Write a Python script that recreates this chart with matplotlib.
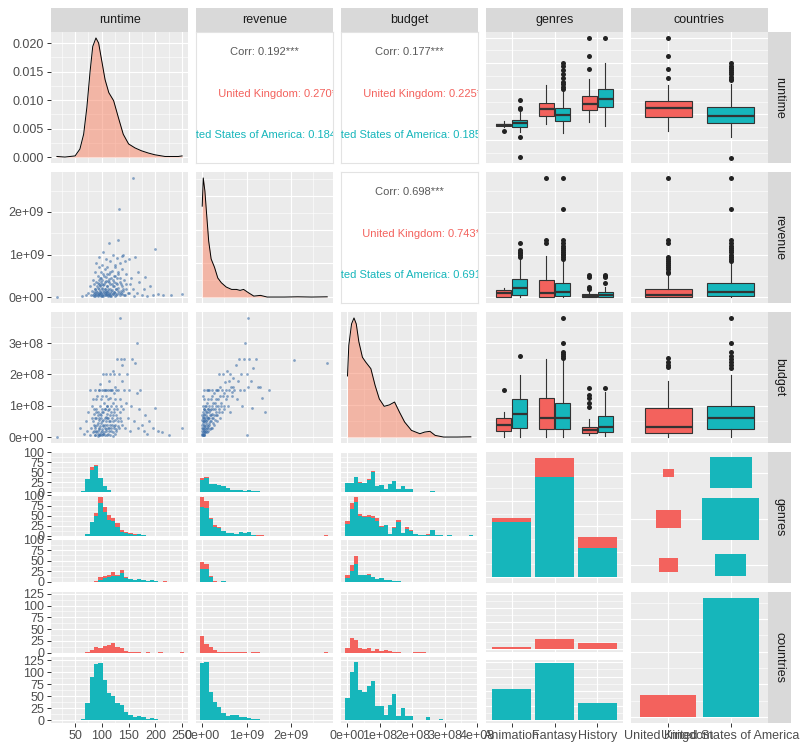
import numpy as np
from matplotlib import pyplot as plt
from matplotlib.patches import Rectangle

plt.rcParams['font.family'] = ['Liberation Sans', 'DejaVu Sans']

RED = '#F3625D'
TEAL = '#16B6BB'
DENS_FILL = '#F98161'
PANEL = '#EBEBEB'
STRIP = '#D9D9D9'
DOT = '#3E6FA8'

# ---------------- data ----------------
variables = ['runtime', 'revenue', 'budget', 'genres', 'countries']
genres = ['Animation', 'Fantasy', 'History']
countries = ['United Kingdom', 'United States of America']

# diagonal densities (revenue in 1e9, budget in 1e8; those two scaled to peak 1)
rt_dens_x = [16, 31, 50, 59, 66, 72, 78, 83, 89, 94, 100, 106, 113, 122, 131, 140, 150, 162, 174, 187, 199, 218, 243, 250]
rt_dens_y = [0.0001, 0.0, 0.0002, 0.0014, 0.0040, 0.0087, 0.0150, 0.0194, 0.0209, 0.0200, 0.0168, 0.0136,
             0.0113, 0.0099, 0.0069, 0.0040, 0.0023, 0.0016, 0.0011, 0.0007, 0.0004, 0.0001, 0.0001, 0.0002]
rev_dens_x = [0.0, 0.023, 0.06, 0.10, 0.145, 0.20, 0.276, 0.35, 0.43, 0.54, 0.66, 0.77, 0.85, 0.93,
              1.04, 1.16, 1.31, 1.46, 1.85, 2.15, 2.46, 2.81]
rev_dens_y = [0.763, 1.0, 0.89, 0.69, 0.47, 0.32, 0.25, 0.16, 0.12, 0.084, 0.064, 0.064, 0.056, 0.064,
              0.036, 0.008, 0.014, 0.0, 0.0, 0.002, 0.0, 0.002]
bud_dens_x = [0.0, 0.04, 0.125, 0.2, 0.27, 0.35, 0.46, 0.56, 0.72, 0.85, 0.98, 1.13, 1.29, 1.45, 1.6,
              1.76, 1.97, 2.23, 2.38, 2.54, 2.7, 2.96, 3.38, 3.8]
bud_dens_y = [0.513, 0.77, 0.95, 1.0, 0.95, 0.80, 0.67, 0.63, 0.574, 0.434, 0.32, 0.258, 0.27, 0.294,
              0.21, 0.126, 0.056, 0.028, 0.042, 0.048, 0.014, 0.0, 0.0, 0.002]

# scatter points: (runtime, revenue 1e9), (runtime, budget 1e8), (revenue 1e9, budget 1e8)
rt_rev = [(17, 0.0), (62, 0.02), (70, 0.05), (75, 0.1), (78, 0.25), (80, 0.05), (82, 0.15), (84, 0.4),
          (85, 0.02), (86, 0.3), (87, 0.1), (88, 0.6), (88, 0.2), (89, 0.05), (90, 0.35), (90, 0.8),
          (91, 0.12), (92, 0.5), (92, 0.03), (93, 0.22), (94, 0.7), (94, 0.08), (95, 0.3), (95, 0.95),
          (96, 0.15), (96, 0.45), (97, 0.05), (97, 0.25), (98, 0.6), (98, 0.1), (99, 0.35), (100, 0.02),
          (100, 0.18), (100, 0.75), (101, 0.4), (102, 0.08), (102, 1.05), (103, 0.28), (103, 0.55),
          (104, 0.12), (105, 0.2), (105, 0.65), (106, 0.04), (106, 0.35), (107, 0.9), (107, 0.15),
          (108, 0.48), (108, 0.06), (109, 0.25), (110, 0.12), (110, 0.7), (111, 0.38), (112, 0.05),
          (112, 0.2), (113, 0.55), (114, 1.28), (114, 0.1), (115, 0.3), (116, 0.85), (116, 0.02),
          (117, 0.45), (118, 0.15), (119, 0.62), (120, 0.25), (120, 0.08), (121, 1.0), (122, 0.35),
          (123, 0.12), (124, 0.75), (125, 0.5), (126, 0.2), (127, 0.05), (128, 0.92), (129, 0.3),
          (130, 1.33), (130, 0.6), (131, 0.15), (132, 2.07), (133, 0.45), (134, 0.8), (135, 0.1),
          (136, 0.3), (137, 0.96), (138, 0.65), (139, 0.2), (140, 1.0), (141, 0.05), (142, 0.4),
          (143, 0.85), (145, 0.2), (146, 0.55), (148, 0.1), (150, 0.9), (152, 0.3), (155, 0.45),
          (158, 0.2), (159, 2.81), (160, 0.02), (162, 0.95), (165, 0.1), (168, 0.6), (170, 0.35),
          (175, 0.05), (178, 0.2), (180, 0.48), (185, 0.02), (190, 0.25), (195, 0.05), (199, 1.12),
          (205, 0.08), (215, 0.04), (230, 0.05), (249, 0.06),
          (84, 0.05), (85, 0.12), (86, 0.08), (87, 0.2), (88, 0.03), (89, 0.15), (90, 0.07), (91, 0.25),
          (92, 0.1), (93, 0.04), (94, 0.18), (95, 0.06), (96, 0.28), (97, 0.12), (98, 0.02), (99, 0.09),
          (100, 0.22), (101, 0.05), (102, 0.15), (103, 0.03), (104, 0.3), (105, 0.1), (106, 0.18),
          (107, 0.04), (108, 0.12), (109, 0.07), (110, 0.25), (111, 0.02), (112, 0.14), (113, 0.08),
          (114, 0.35), (115, 0.05), (116, 0.2), (117, 0.1), (118, 0.03), (119, 0.16), (120, 0.4),
          (121, 0.06), (122, 0.13), (123, 0.25), (124, 0.02), (125, 0.1), (126, 0.33), (127, 0.18),
          (128, 0.07), (130, 0.22), (132, 0.1), (134, 0.04), (136, 0.15), (138, 0.08), (92, 0.32),
          (95, 0.4), (98, 0.45), (101, 0.3), (104, 0.5), (107, 0.38), (110, 0.55), (113, 0.42),
          (116, 0.6), (119, 0.3), (122, 0.5), (125, 0.7), (128, 0.45), (131, 0.55), (134, 0.35),
          (137, 0.25), (140, 0.15), (143, 0.05), (146, 0.3), (150, 0.1)]
rt_bud = [(17, 0.0), (60, 0.3), (66, 0.1), (70, 0.5), (72, 0.2), (75, 0.8), (77, 0.05), (78, 1.5),
          (80, 0.3), (81, 1.0), (82, 0.6), (83, 0.15), (84, 1.2), (85, 0.4), (86, 0.75), (87, 0.05),
          (88, 1.5), (88, 0.3), (89, 0.9), (90, 0.2), (90, 0.6), (91, 1.3), (92, 0.1), (92, 0.45),
          (93, 0.8), (94, 1.5), (94, 0.25), (95, 0.6), (96, 1.0), (96, 0.05), (97, 0.35), (97, 1.7),
          (98, 0.7), (98, 0.15), (99, 1.2), (100, 0.5), (100, 0.9), (101, 0.25), (101, 1.5), (102, 0.4),
          (102, 2.0), (103, 0.8), (103, 0.1), (104, 1.1), (105, 0.6), (105, 0.3), (106, 1.5), (106, 0.9),
          (107, 0.2), (107, 1.3), (108, 0.5), (108, 2.0), (109, 0.75), (110, 0.4), (110, 1.0), (111, 1.5),
          (111, 0.1), (112, 0.6), (113, 1.8), (113, 0.3), (114, 0.9), (115, 1.25), (115, 0.5), (116, 2.0),
          (117, 0.2), (117, 0.8), (118, 1.5), (119, 0.4), (120, 1.1), (120, 0.7), (121, 2.1), (122, 0.3),
          (122, 1.4), (123, 0.9), (124, 0.55), (125, 1.6), (126, 0.2), (127, 1.0), (128, 2.5), (129, 0.6),
          (130, 1.5), (131, 0.35), (132, 2.0), (133, 3.81), (133, 0.8), (134, 1.2), (135, 2.5), (136, 0.5),
          (137, 1.8), (138, 2.3), (140, 0.9), (141, 1.5), (142, 2.5), (144, 0.3), (145, 1.1), (147, 2.0),
          (148, 0.6), (150, 1.5), (152, 0.2), (155, 1.0), (157, 2.5), (160, 0.5), (162, 2.37), (165, 1.4),
          (166, 3.0), (168, 0.3), (170, 0.9), (172, 1.5), (175, 0.4), (178, 0.2), (180, 0.7), (185, 0.1),
          (188, 0.5), (195, 0.3), (199, 0.94), (205, 0.2), (213, 0.17), (225, 0.05), (249, 0.3),
          (84, 0.5), (85, 0.2), (86, 0.9), (87, 0.35), (88, 0.6), (89, 0.15), (90, 0.8), (91, 0.4),
          (92, 0.7), (93, 0.2), (94, 0.55), (95, 0.3), (96, 0.75), (97, 0.1), (98, 0.45), (99, 0.6),
          (100, 0.2), (101, 0.8), (102, 0.35), (103, 0.55), (104, 0.15), (105, 0.9), (106, 0.4),
          (107, 0.65), (108, 0.25), (109, 1.0), (110, 0.6), (111, 0.3), (112, 0.85), (113, 0.5),
          (114, 0.2), (115, 0.7), (116, 0.4), (117, 1.0), (118, 0.3), (119, 0.6), (120, 0.15),
          (121, 0.5), (122, 0.8), (123, 0.35), (124, 1.2), (125, 0.4), (126, 0.7), (127, 0.25),
          (128, 0.9), (130, 0.5), (132, 0.3), (134, 0.6), (136, 1.0), (138, 0.4), (90, 1.2), (95, 1.5),
          (100, 1.3), (104, 1.5), (108, 1.5), (112, 1.2), (115, 1.5), (119, 1.5), (123, 2.0), (127, 1.5),
          (95, 0.05), (100, 0.05), (105, 0.08), (110, 0.05), (115, 0.05), (120, 0.04), (125, 0.1),
          (88, 0.05), (92, 0.03), (102, 0.1)]
rev_bud = [(0.0, 0.05), (0.0, 0.2), (0.0, 0.4), (0.01, 0.6), (0.01, 0.1), (0.01, 0.8), (0.02, 0.3),
           (0.02, 1.0), (0.02, 0.15), (0.03, 0.5), (0.03, 0.7), (0.03, 0.05), (0.04, 0.25), (0.04, 1.2),
           (0.05, 0.4), (0.05, 0.9), (0.06, 0.6), (0.06, 0.15), (0.07, 0.35), (0.07, 1.0), (0.08, 0.5),
           (0.08, 0.8), (0.09, 0.2), (0.1, 0.65), (0.1, 1.1), (0.11, 0.4), (0.12, 0.9), (0.12, 0.3),
           (0.13, 1.5), (0.14, 0.6), (0.15, 0.8), (0.15, 0.45), (0.16, 1.0), (0.17, 0.25), (0.18, 0.7),
           (0.19, 1.2), (0.2, 0.5), (0.2, 0.9), (0.21, 1.5), (0.22, 0.3), (0.23, 0.75), (0.24, 1.1),
           (0.25, 0.6), (0.26, 1.4), (0.27, 0.4), (0.28, 0.9), (0.3, 1.5), (0.3, 0.7), (0.32, 1.2),
           (0.33, 0.5), (0.35, 1.0), (0.36, 1.5), (0.37, 0.8), (0.38, 2.0), (0.4, 1.3), (0.41, 0.6),
           (0.43, 1.0), (0.45, 1.5), (0.46, 2.0), (0.48, 0.9), (0.5, 1.4), (0.52, 1.75), (0.54, 1.2),
           (0.55, 2.1), (0.57, 1.0), (0.6, 1.5), (0.62, 2.0), (0.63, 0.8), (0.65, 1.6), (0.68, 1.3),
           (0.7, 1.9), (0.72, 1.5), (0.75, 2.3), (0.78, 1.2), (0.8, 1.8), (0.82, 2.5), (0.85, 1.5),
           (0.88, 2.0), (0.9, 1.0), (0.93, 2.5), (0.95, 1.5), (0.97, 3.0), (1.0, 0.07), (1.0, 2.0),
           (1.02, 1.6), (1.04, 3.81), (1.06, 2.5), (1.1, 1.8), (1.12, 0.94), (1.15, 2.2), (1.2, 2.5),
           (1.25, 1.6), (1.3, 1.6), (1.34, 1.25), (1.4, 0.8), (1.5, 1.5), (2.07, 2.45), (2.81, 2.37),
           (0.0, 0.1), (0.0, 0.3), (0.0, 0.55), (0.0, 0.7), (0.01, 0.25), (0.01, 0.45), (0.01, 0.05),
           (0.02, 0.5), (0.02, 0.65), (0.02, 0.08), (0.03, 0.2), (0.03, 0.35), (0.03, 0.9), (0.04, 0.1),
           (0.04, 0.5), (0.04, 0.75), (0.05, 0.2), (0.05, 0.6), (0.05, 0.05), (0.06, 0.3), (0.06, 0.85),
           (0.07, 0.15), (0.07, 0.55), (0.08, 0.25), (0.08, 1.0), (0.09, 0.45), (0.09, 0.7), (0.1, 0.3),
           (0.1, 0.15), (0.11, 0.8), (0.11, 0.55), (0.12, 0.6), (0.13, 0.35), (0.13, 0.9), (0.14, 0.2),
           (0.14, 1.2), (0.15, 0.6), (0.16, 0.4), (0.17, 0.85), (0.18, 0.5), (0.19, 0.3), (0.2, 0.7),
           (0.21, 1.0), (0.22, 0.6), (0.23, 1.3), (0.24, 0.45), (0.25, 0.9), (0.26, 0.7), (0.28, 1.1),
           (0.29, 0.55), (0.3, 1.0), (0.31, 0.8), (0.33, 1.5), (0.34, 0.7), (0.36, 1.2), (0.38, 0.9),
           (0.4, 1.6), (0.42, 1.1), (0.44, 0.8), (0.47, 1.3), (0.5, 1.0), (0.53, 1.5), (0.56, 1.3),
           (0.6, 1.8), (0.66, 1.45), (0.7, 1.6), (0.02, 1.3), (0.05, 1.5), (0.1, 1.5), (0.15, 1.5)]

# correlation texts
corr_all = {(0, 1): '0.192***', (0, 2): '0.177***', (1, 2): '0.698***'}
corr_uk = {(0, 1): '0.270*', (0, 2): '0.225*', (1, 2): '0.743***'}
corr_us = {(0, 1): '0.184***', (0, 2): '0.185***', (1, 2): '0.691***'}

# boxplots: [whislo, q1, median, q3, whishi] and outliers, per genre (UK / US) and per country
rt_box_uk = [[75, 77, 79, 82, 87], [81, 96, 110, 122, 157], [86, 109, 120, 136, 170]]
rt_out_uk = [[67], [], [188, 215, 249]]
rt_box_us = [[66, 75, 83, 89, 105], [64, 88, 99, 112, 146], [77, 115, 130, 149, 200]]
rt_out_us = [[110, 113, 128, 55, 17], [149, 154, 159, 164, 172, 179, 187, 195, 201], [249]]
rt_box_cty = [[68, 94, 112, 126, 157], [55, 83, 96, 114, 160]]
rt_out_cty = [[172, 188, 215, 249], [167, 170, 174, 178, 182, 186, 190, 195, 201, 15]]

rev_box_uk = [[0.0, 0.01, 0.09, 0.17, 0.22], [0.0, 0.01, 0.10, 0.40, 0.96], [0.0, 0.01, 0.03, 0.07, 0.12]]
rev_out_uk = [[], [1.28, 1.34, 2.81], [0.2, 0.24, 0.48, 0.53]]
rev_box_us = [[0.0, 0.05, 0.21, 0.42, 0.87], [0.0, 0.025, 0.11, 0.32, 0.87], [0.0, 0.01, 0.04, 0.11, 0.24]]
rev_out_us = [[0.95, 0.98, 1.03, 1.06, 1.11, 1.28],
              [0.9, 0.94, 0.98, 1.02, 1.06, 1.1, 1.15, 1.2, 1.28, 1.34, 2.07, 2.81],
              [0.32, 0.48, 0.5, 0.53]]
rev_box_cty = [[0.0, 0.0, 0.055, 0.2, 0.5], [0.0, 0.025, 0.11, 0.32, 0.8]]
rev_out_cty = [[0.56, 0.6, 0.65, 0.7, 0.75, 0.8, 0.85, 0.9, 0.95, 1.28, 1.34, 2.81],
               [0.85, 0.9, 0.95, 1.0, 1.05, 1.1, 1.15, 1.2, 1.28, 1.34, 2.07, 2.81]]

bud_box_uk = [[0.01, 0.19, 0.38, 0.62, 0.79], [0.01, 0.25, 0.6, 1.24, 2.48], [0.05, 0.12, 0.22, 0.33, 0.58]]
bud_out_uk = [[1.5], [], [0.97, 1.08, 1.24, 1.34, 1.55]]
bud_box_us = [[0.01, 0.3, 0.74, 1.2, 1.98], [0.01, 0.25, 0.6, 1.1, 2.47], [0.04, 0.17, 0.33, 0.68, 1.45]]
bud_out_us = [[2.6], [2.51, 2.58, 2.65, 2.72, 3.01, 3.81], [1.55]]
bud_box_cty = [[0.0, 0.14, 0.33, 0.94, 1.79], [0.0, 0.25, 0.6, 1.0, 1.98]]
bud_out_cty = [[2.22, 2.3, 2.4, 2.51], [2.2, 2.3, 2.4, 2.5, 2.6, 2.72, 3.01, 3.81]]

# film counts per genre
genre_n_us = [218, 395, 115]
genre_n_uk = [15, 75, 42]

# histogram counts, 30 bins each
rt_anim_us = [1, 0, 0, 0, 0, 1, 2, 32, 55, 66, 35, 15, 5, 0, 1, 0, 0, 0, 0, 0, 0, 0, 0, 0, 0, 0, 0, 0, 0, 0]
rt_anim_uk = [0, 0, 0, 0, 0, 0, 0, 1, 7, 3, 0, 0, 0, 0, 0, 0, 0, 0, 0, 0, 0, 0, 0, 0, 0, 0, 0, 0, 0, 0]
rt_fant_us = [0, 0, 0, 0, 0, 0, 1, 5, 35, 50, 82, 60, 40, 36, 21, 11, 7, 4, 3, 4, 2, 1, 1, 0, 0, 0, 0, 0, 0, 0]
rt_fant_uk = [0, 0, 0, 0, 0, 0, 0, 0, 0, 6, 14, 12, 11, 8, 11, 3, 3, 4, 2, 0, 0, 0, 0, 0, 0, 0, 0, 0, 0, 0]
rt_hist_us = [0, 0, 0, 0, 0, 0, 0, 0, 1, 0, 5, 10, 12, 15, 15, 20, 10, 7, 5, 6, 4, 2, 4, 2, 0, 0, 0, 0, 0, 1]
rt_hist_uk = [0, 0, 0, 0, 0, 0, 0, 0, 0, 3, 7, 3, 5, 9, 1, 7, 2, 0, 0, 1, 0, 0, 0, 0, 0, 2, 0, 0, 0, 0]
rt_us = [1, 0, 0, 0, 0, 1, 3, 37, 90, 117, 120, 84, 57, 51, 37, 31, 17, 11, 8, 10, 6, 3, 5, 2, 0, 0, 0, 0, 0, 1]
rt_uk = [0, 0, 0, 0, 0, 0, 0, 2, 5, 11, 9, 15, 16, 20, 11, 10, 4, 2, 2, 1, 0, 1, 0, 0, 1, 0, 0, 0, 0, 1]

rev_anim_us = [30, 35, 20, 20, 17, 14, 11, 6, 6, 5, 3, 6, 3, 3, 0, 0, 0, 0, 0, 0, 0, 0, 0, 0, 0, 0, 0, 0, 0, 0]
rev_anim_uk = [5, 4, 0, 0, 0, 0, 0, 0, 0, 0, 0, 0, 0, 0, 0, 0, 0, 0, 0, 0, 0, 0, 0, 0, 0, 0, 0, 0, 0, 0]
rev_fant_us = [71, 70, 41, 23, 20, 12, 8, 8, 6, 11, 8, 10, 3, 0, 0, 0, 0, 0, 0, 0, 0, 0, 1, 0, 0, 0, 0, 0, 0, 0]
rev_fant_uk = [26, 15, 3, 3, 1, 0, 0, 0, 0, 0, 0, 0, 0, 2, 2, 0, 0, 0, 0, 0, 0, 0, 0, 0, 0, 0, 0, 0, 0, 2]
rev_hist_us = [30, 30, 11, 0, 0, 3, 0, 0, 0, 0, 0, 0, 0, 0, 0, 0, 0, 0, 0, 0, 0, 0, 0, 0, 0, 0, 0, 0, 0, 0]
rev_hist_uk = [17, 12, 4, 2, 0, 0, 0, 0, 0, 0, 0, 0, 0, 0, 0, 0, 0, 0, 0, 0, 0, 0, 0, 0, 0, 0, 0, 0, 0, 0]
rev_us = [120, 122, 60, 39, 28, 15, 10, 12, 11, 8, 7, 4, 2, 2, 1, 0, 0, 0, 0, 0, 0, 0, 1, 0, 0, 0, 0, 0, 0, 1]
rev_uk = [35, 19, 12, 5, 2, 2, 1, 2, 2, 1, 2, 0, 1, 1, 0, 0, 0, 0, 0, 0, 0, 0, 0, 0, 0, 0, 0, 0, 0, 1]

bud_anim_us = [22, 22, 37, 23, 22, 31, 51, 14, 17, 7, 19, 28, 7, 14, 7, 7, 0, 0, 0, 0, 2, 0, 0, 0, 0, 0, 0, 0, 0, 0]
bud_anim_uk = [2, 0, 0, 2, 0, 2, 1, 0, 0, 0, 0, 1, 0, 0, 0, 0, 0, 0, 0, 0, 0, 0, 0, 0, 0, 0, 0, 0, 0, 0]
bud_fant_us = [30, 66, 83, 50, 47, 48, 45, 38, 22, 27, 5, 20, 35, 8, 17, 12, 6, 3, 3, 3, 14, 2, 2, 0, 2, 0, 0, 0, 0, 2]
bud_fant_uk = [7, 16, 13, 5, 3, 4, 5, 7, 3, 1, 0, 2, 5, 0, 5, 2, 0, 0, 0, 2, 0, 0, 0, 0, 0, 0, 0, 0, 0, 0]
bud_hist_us = [10, 26, 43, 17, 17, 17, 12, 7, 10, 5, 5, 3, 3, 0, 0, 0, 0, 0, 0, 0, 0, 0, 0, 0, 0, 0, 0, 0, 0, 0]
bud_hist_uk = [7, 14, 17, 0, 0, 1, 0, 0, 0, 0, 0, 0, 0, 0, 0, 0, 0, 0, 0, 0, 0, 0, 0, 0, 0, 0, 0, 0, 0, 0]
bud_us = [47, 100, 122, 63, 60, 72, 82, 29, 30, 12, 33, 54, 9, 26, 9, 9, 1, 1, 1, 8, 0, 0, 2, 0, 0, 0, 0, 0, 1, 0]
bud_uk = [10, 31, 27, 10, 8, 10, 4, 7, 3, 6, 4, 2, 2, 0, 0, 0, 1, 1, 1, 0, 0, 0, 0, 0, 0, 0, 0, 0, 0, 0]

# variable ranges (revenue in 1e9, budget in 1e8)
rt_range = (17, 250)
rev_range = (0, 2.79)
bud_range = (0, 3.8)

# ---------------- layout (pixels) ----------------
W, H = 800, 750
COLS = [(51, 188), (196, 333), (341, 478), (486, 623), (631, 768)]
ROWS = [(32, 163), (172, 303), (312, 443), (452, 583), (592, 723)]
GENRE_SUB = [(452, 493), (495, 537), (539, 583)]
CTY_SUB = [(592, 654), (656.5, 723)]
CTY_SUB_BAR = [(592, 652), (660, 723)]

fig = plt.figure(figsize=(W / 100, H / 100), dpi=100)


def add_px(x0, y0, x1, y1):
    return fig.add_axes([x0 / W, 1 - y1 / H, (x1 - x0) / W, (y1 - y0) / H])


def panel(x0, y0, x1, y1, bg=PANEL):
    ax = add_px(x0, y0, x1, y1)
    ax.set_facecolor(bg)
    for s in ax.spines.values():
        s.set_visible(False)
    ax.tick_params(which='both', length=0, labelleft=False, labelbottom=False)
    ax.set_axisbelow(True)
    return ax


def grid(ax, xmaj, xmin, ymaj, ymin):
    ax.set_xticks(xmaj)
    ax.set_xticks(xmin, minor=True)
    ax.set_yticks(ymaj)
    ax.set_yticks(ymin, minor=True)
    ax.grid(which='major', color='white', lw=0.85)
    ax.grid(which='minor', color='white', lw=0.4)


def ylabels(ax, labels):
    ax.set_yticklabels(labels)
    ax.tick_params(axis='y', which='major', left=True, length=3, width=0.7, color='#333333',
                   labelleft=True, labelsize=9, labelcolor='#4D4D4D', pad=2)


def xlabels(ax, labels):
    ax.set_xticklabels(labels)
    ax.tick_params(axis='x', which='major', bottom=True, length=3, width=0.7, color='#333333',
                   labelbottom=True, labelsize=9, labelcolor='#4D4D4D', pad=2)


# xlim used when the variable is on x, ylim when it is on y
scales = [
    dict(xlim=(5, 261), ylim=(5, 261), maj=[50, 100, 150, 200, 250], mnr=[25, 75, 125, 175, 225],
         lab=['50', '100', '150', '200', '250']),
    dict(xlim=(-0.14, 2.94), ylim=(-0.14, 2.94), maj=[0, 1, 2], mnr=[0.5, 1.5, 2.5],
         lab=['0e+00', '1e+09', '2e+09']),
    dict(xlim=(-0.2, 4.02), ylim=(-0.19, 3.99), maj=[0, 1, 2, 3, 4], mnr=[0.5, 1.5, 2.5, 3.5],
         lab=['0e+00', '1e+08', '2e+08', '3e+08', '4e+08']),
]
ranges = [rt_range, rev_range, bud_range]

# ---------------- diagonal densities ----------------
dens = [(rt_dens_x, rt_dens_y), (rev_dens_x, rev_dens_y), (bud_dens_x, bud_dens_y)]
dens_grid = [0.005, 0.283, 0.269]
for i in range(3):
    sc = scales[i]
    ax = panel(COLS[i][0], ROWS[i][0], COLS[i][1], ROWS[i][1])
    x, y = dens[i]
    top = max(y)
    step = dens_grid[i]
    ymaj = np.arange(0, top * 1.06, step)
    grid(ax, sc['maj'], sc['mnr'], ymaj, ymaj + step / 2)
    ax.fill_between(x, y, 0, color=DENS_FILL, alpha=0.5, lw=0)
    ax.plot(x, y, color='black', lw=0.7)
    ax.set_xlim(sc['xlim'])
    ax.set_ylim(-0.05 * top, 1.05 * top)
    if i == 0:
        ylabels(ax, ['0.000', '0.005', '0.010', '0.015', '0.020'])

# ---------------- lower scatters ----------------
scat = {(1, 0): rt_rev, (2, 0): rt_bud, (2, 1): rev_bud}
for (r, c), pts in scat.items():
    ax = panel(COLS[c][0], ROWS[r][0], COLS[c][1], ROWS[r][1])
    grid(ax, scales[c]['maj'], scales[c]['mnr'], scales[r]['maj'], scales[r]['mnr'])
    px, py = np.array(pts).T
    ax.scatter(px, py, s=4, color=DOT, alpha=0.6, lw=0)
    ax.set_xlim(scales[c]['xlim'])
    ax.set_ylim(scales[r]['ylim'])
    if c == 0:
        ylabels(ax, scales[r]['lab'])

# ---------------- upper correlations ----------------
lab_w = max(len(c) for c in countries)
for (r, c), val in corr_all.items():
    ax = panel(COLS[c][0], ROWS[r][0], COLS[c][1], ROWS[r][1], bg='white')
    for s in ax.spines.values():
        s.set_visible(True)
        s.set_color('#E3E3E3')
        s.set_linewidth(0.8)
    ax.set_xticks([])
    ax.set_yticks([])
    num_w = max(len(corr_uk[(r, c)]), len(corr_us[(r, c)]))
    ax.text(0.5, 0.85, 'Corr: ' + val, transform=ax.transAxes, ha='center', va='center',
            fontsize=8, color='#595959')
    ax.text(0.5, 0.53, countries[0].rjust(lab_w) + ': ' + corr_uk[(r, c)].ljust(num_w),
            transform=ax.transAxes, ha='center', va='center', fontsize=8, color=RED, clip_on=True)
    ax.text(0.5, 0.21, countries[1].rjust(lab_w) + ': ' + corr_us[(r, c)].ljust(num_w),
            transform=ax.transAxes, ha='center', va='center', fontsize=8, color=TEAL, clip_on=True)

# ---------------- boxplots ----------------
box_genre = [(rt_box_uk, rt_out_uk, rt_box_us, rt_out_us),
             (rev_box_uk, rev_out_uk, rev_box_us, rev_out_us),
             (bud_box_uk, bud_out_uk, bud_box_us, bud_out_us)]
box_cty = [(rt_box_cty, rt_out_cty), (rev_box_cty, rev_out_cty), (bud_box_cty, bud_out_cty)]


def stats(five, out):
    return dict(whislo=five[0], q1=five[1], med=five[2], q3=five[3], whishi=five[4], fliers=out)


def draw_box(ax, st, pos, width, color):
    ax.bxp([st], positions=[pos], widths=width, patch_artist=True, showcaps=False, manage_ticks=False,
           boxprops=dict(facecolor=color, edgecolor='#333333', lw=0.8),
           medianprops=dict(color='#333333', lw=1.6),
           whiskerprops=dict(color='#333333', lw=0.8),
           flierprops=dict(marker='o', markerfacecolor='#222222', markeredgecolor='none', markersize=3.6))


for r in range(3):
    sc = scales[r]
    b_uk, o_uk, b_us, o_us = box_genre[r]
    ax = panel(COLS[3][0], ROWS[r][0], COLS[3][1], ROWS[r][1])
    grid(ax, [1, 2, 3], [], sc['maj'], sc['mnr'])
    for g in range(3):
        draw_box(ax, stats(b_uk[g], o_uk[g]), g + 1 - 0.1875, 0.36, RED)
        draw_box(ax, stats(b_us[g], o_us[g]), g + 1 + 0.1875, 0.36, TEAL)
    ax.set_xlim(0.4, 3.6)
    ax.set_ylim(sc['ylim'])

    b, o = box_cty[r]
    ax = panel(COLS[4][0], ROWS[r][0], COLS[4][1], ROWS[r][1])
    grid(ax, [1, 2], [], sc['maj'], sc['mnr'])
    draw_box(ax, stats(b[0], o[0]), 1, 0.75, RED)
    draw_box(ax, stats(b[1], o[1]), 2, 0.75, TEAL)
    ax.set_xlim(0.4, 2.6)
    ax.set_ylim(sc['ylim'])

# ---------------- histograms ----------------
hist_genre = [
    [(rt_anim_us, rt_anim_uk), (rt_fant_us, rt_fant_uk), (rt_hist_us, rt_hist_uk)],
    [(rev_anim_us, rev_anim_uk), (rev_fant_us, rev_fant_uk), (rev_hist_us, rev_hist_uk)],
    [(bud_anim_us, bud_anim_uk), (bud_fant_us, bud_fant_uk), (bud_hist_us, bud_hist_uk)],
]
hist_cty = [(rt_uk, rt_us), (rev_uk, rev_us), (bud_uk, bud_us)]

for c in range(3):
    sc = scales[c]
    centers = np.linspace(ranges[c][0], ranges[c][1], 30)
    bw = centers[1] - centers[0]
    for g, (y0, y1) in enumerate(GENRE_SUB):
        us, uk = hist_genre[c][g]
        ax = panel(COLS[c][0], y0, COLS[c][1], y1)
        grid(ax, sc['maj'], sc['mnr'], [0, 25, 50, 75, 100], [12.5, 37.5, 62.5, 87.5])
        ax.bar(centers, us, width=bw, color=TEAL, lw=0)
        ax.bar(centers, uk, width=bw, bottom=us, color=RED, lw=0)
        ax.set_xlim(sc['xlim'])
        ax.set_ylim(-2.5, 101)
        if c == 0:
            ylabels(ax, ['0', '25', '50', '75', '100'])
    for k, (y0, y1) in enumerate(CTY_SUB):
        ax = panel(COLS[c][0], y0, COLS[c][1], y1)
        grid(ax, sc['maj'], sc['mnr'], [0, 25, 50, 75, 100, 125], [12.5, 37.5, 62.5, 87.5, 112.5])
        ax.bar(centers, hist_cty[c][k], width=bw, color=[RED, TEAL][k], lw=0)
        ax.set_xlim(sc['xlim'])
        if k == 0:
            ax.set_ylim(-3, 129)
        else:
            ax.set_ylim(-5.5, 133)
        if c == 0:
            ylabels(ax, ['0', '25', '50', '75', '100', '125'])
        if k == 1:
            xlabels(ax, sc['lab'])

# ---------------- discrete x discrete ----------------
gx = np.arange(1, 4)
tot = np.array(genre_n_us) + np.array(genre_n_uk)

# genres vs genres: stacked bars
ax = panel(COLS[3][0], ROWS[3][0], COLS[3][1], ROWS[3][1])
grid(ax, gx, [], [0, 100, 200, 300, 400], [50, 150, 250, 350, 450])
ax.bar(gx, genre_n_us, width=0.9, color=TEAL, lw=0)
ax.bar(gx, genre_n_uk, width=0.9, bottom=genre_n_us, color=RED, lw=0)
ax.set_xlim(0.4, 3.6)
ax.set_ylim(-0.05 * tot.max(), 1.05 * tot.max())

# countries x genres: count tiles, area ~ count
ax = panel(COLS[4][0], ROWS[3][0], COLS[4][1], ROWS[3][1])
grid(ax, [1, 2], [], [1, 2, 3], [])
nmax = max(genre_n_us)
for g in range(3):
    for k, n in enumerate([genre_n_uk[g], genre_n_us[g]]):
        side = 0.91 * np.sqrt(n / nmax)
        ax.add_patch(Rectangle((k + 1 - side / 2, g + 1 - side / 2), side, side,
                               color=[RED, TEAL][k], lw=0))
ax.set_xlim(0.4, 2.6)
ax.set_ylim(3.39, 0.55)

# genres by country: faceted bars
cmax = max(genre_n_us)
for k, (y0, y1) in enumerate(CTY_SUB_BAR):
    ax = panel(COLS[3][0], y0, COLS[3][1], y1)
    grid(ax, gx, [], [0, 100, 200, 300, 400], [50, 150, 250, 350])
    ax.bar(gx, [genre_n_uk, genre_n_us][k], width=0.9, color=[RED, TEAL][k], lw=0)
    ax.set_xlim(0.4, 3.6)
    ax.set_ylim(-0.05 * cmax, 1.05 * cmax)
    if k == 1:
        xlabels(ax, genres)

# countries vs countries
cty_n = [sum(genre_n_uk), sum(genre_n_us)]
ax = panel(COLS[4][0], ROWS[4][0], COLS[4][1], ROWS[4][1])
grid(ax, [1, 2], [], [0, 200, 400, 600], [100, 300, 500, 700])
ax.bar([1, 2], cty_n, width=0.9, color=[RED, TEAL], lw=0)
ax.set_xlim(0.4, 2.6)
ax.set_ylim(-0.05 * max(cty_n), 1.05 * max(cty_n))
xlabels(ax, countries)

# ---------------- strips ----------------
for i, name in enumerate(variables):
    ax = add_px(COLS[i][0], 8, COLS[i][1], 32)
    ax.set_facecolor(STRIP)
    ax.set_xticks([])
    ax.set_yticks([])
    for s in ax.spines.values():
        s.set_visible(False)
    ax.text(0.5, 0.5, name, transform=ax.transAxes, ha='center', va='center', fontsize=9, color='#1A1A1A')

    ax = add_px(768, ROWS[i][0], 791, ROWS[i][1])
    ax.set_facecolor(STRIP)
    ax.set_xticks([])
    ax.set_yticks([])
    for s in ax.spines.values():
        s.set_visible(False)
    ax.text(0.5, 0.5, name, transform=ax.transAxes, ha='center', va='center', fontsize=9,
            color='#1A1A1A', rotation=-90)

fig.savefig('out.png', dpi=100)
